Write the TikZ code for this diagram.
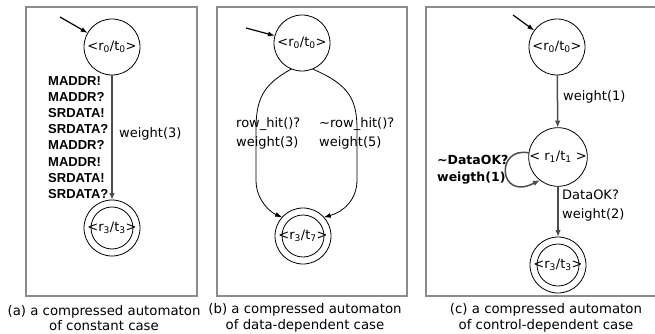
\documentclass[tikz,border=0pt]{standalone}
\usepackage{fontspec}
\setmainfont{DejaVu Sans}
\newfontfamily\arialf{Liberation Sans}
\usetikzlibrary{arrows.meta}
\newcommand\lo[1]{\textsubscript{#1}}

\begin{document}
\begin{tikzpicture}[x=1pt,y=-1pt,
  panel/.style={draw=black!45, line width=1.3pt},
  state/.style={circle, draw, line width=0.8pt, minimum size=56pt, inner sep=0pt,
                outer sep=0pt, font=\fontsize{13}{15}\selectfont},
  accept/.style={state, path picture={\draw[line width=0.8pt]
                (path picture bounding box.center) circle (21pt);}},
  initarrow/.style={line width=1.2pt, -{Latex[length=7pt,width=5pt]}},
  trans/.style={draw=black!70, line width=1.5pt, -{Latex[length=7pt,width=5.5pt]}},
  thintrans/.style={line width=0.8pt, -{Latex[length=7pt,width=5pt]}},
  lbl/.style={font=\fontsize{13}{19}\selectfont, inner sep=0pt, align=left},
  captxt/.style={font=\fontsize{13.3}{15.5}\selectfont, inner sep=0pt, align=center}]

\useasboundingbox (0,0) rectangle (655,334);

% frames of the three sub-figures
\draw[panel] (26,7) rectangle (197,296);
\draw[panel] (217,7) rectangle (407,296);
\draw[panel] (426,7) rectangle (680,296);

% (a) constant case
\node[state] (a0) at (112,47) {<r\lo{0}/t\lo{0}>};
\node[accept] (a3) at (112,228) {<r\lo{3}/t\lo{3}>};
\coordinate (a0in) at (60,17);
\draw[initarrow] (a0in) -- (a0);
\draw[trans] (a0) -- (a3);
\node[lbl, anchor=north west, font=\arialf\bfseries\fontsize{13}{16.2}\selectfont] (aseq) at (48,76)
  {MADDR!\\MADDR?\\SRDATA!\\SRDATA?\\MADDR?\\MADDR!\\SRDATA!\\SRDATA?};
\node[lbl, anchor=west] (aw) at (119,134) {weight(3)};

% (b) data-dependent case
\node[state] (b0) at (302,43) {<r\lo{0}/t\lo{0}>};
\node[accept] (b3) at (303,236) {<r\lo{3}/t\lo{7}>};
\coordinate (b0in) at (246,28);
\draw[initarrow] (b0in) -- (b0);
\draw[thintrans] (b0.248) .. controls (262,85) and (256,100) .. (256,130)
  -- (256,180) .. controls (256,200) and (270,212) .. (b3.138);
\draw[thintrans] (b0.292) .. controls (350,85) and (357,100) .. (357,130)
  -- (357,180) .. controls (357,200) and (343,212) .. (b3.42);
\node[lbl, anchor=north west] (bl) at (236,117) {row\_hit()?\\weight(3)};
\node[lbl, anchor=north west] (br) at (319,117) {\textasciitilde row\_hit()?\\weight(5)};

% (c) control-dependent case
\node[state] (c0) at (557,47) {<r\lo{0}/t\lo{0}>};
\node[state] (c1) at (558,157) {< r\lo{1}/t\lo{1} >};
\node[accept] (c3) at (558,265) {<r\lo{3}/t\lo{3}>};
\coordinate (c0in) at (513,15);
\draw[initarrow] (c0in) -- (c0);
\draw[trans] (c0) -- (c1);
\draw[trans] (c1) -- (c3);
\draw[trans] (c1.172) .. controls (495,146) and (498,202) .. (c1.232);
\node[lbl, anchor=west] (cw1) at (563,97) {weight(1)};
\node[lbl, anchor=north west] (cok) at (562,190) {DataOK?\\weight(2)};
\node[lbl, anchor=north west, font=\bfseries\fontsize{12.5}{17}\selectfont] (cnok) at (437,155)
  {\textasciitilde DataOK?\\weigth(1)};

% captions
\node[captxt] (capa) at (104,318) {(a) a compressed automaton\\of constant case};
\node[captxt] (capb) at (305,318) {(b) a compressed automaton\\of data-dependent case};
\node[captxt] (capc) at (546,318) {(c) a compressed automaton\\of control-dependent case};
\end{tikzpicture}
\end{document}
